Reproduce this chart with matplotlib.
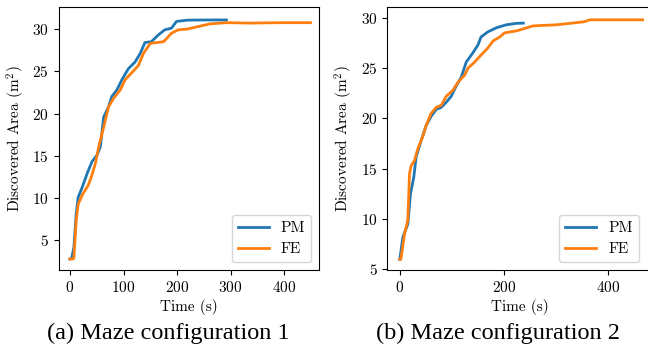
import matplotlib
matplotlib.use("Agg")
import matplotlib.pyplot as plt

plt.rcParams['font.family'] = 'serif'
plt.rcParams['font.serif'] = ['cmr10']
plt.rcParams['mathtext.fontset'] = 'cm'
plt.rcParams['axes.formatter.use_mathtext'] = True
plt.rcParams['axes.unicode_minus'] = False

# Maze configuration 1
t1_pm = [0, 3, 7.4, 11.7, 15.4, 23, 32, 41, 50.6, 56.8, 63, 72, 78, 87.6, 97, 109, 121.6,
         131, 140, 152, 165, 177, 189.5, 199, 220, 260, 292]
a1_pm = [2.8, 2.85, 4.2, 8.2, 10.1, 11.3, 12.9, 14.3, 15.1, 16.1, 19.6, 20.8, 22.0, 22.8,
         24.0, 25.3, 26.1, 27.1, 28.4, 28.5, 29.3, 29.9, 30.1, 30.9, 31.05, 31.07, 31.07]
t1_fe = [0, 6, 7.4, 11.7, 15.4, 24, 34, 41, 47.5, 53.7, 63, 72, 81.5, 94, 103, 115, 128,
         137, 150, 175, 189.5, 202, 220, 240, 261, 292, 335, 397, 449]
a1_fe = [2.8, 2.8, 3.0, 7.4, 9.3, 10.5, 11.5, 12.7, 14.1, 16.1, 18.4, 20.8, 21.8, 22.8,
         24.0, 24.8, 25.7, 27.1, 28.3, 28.5, 29.5, 29.9, 30.0, 30.3, 30.6, 30.75, 30.7,
         30.75, 30.75]

# Maze configuration 2
t2_pm = [0, 5.8, 15.4, 20.5, 26.9, 31.4, 41, 50.6, 60, 70, 79.5, 89, 98.7, 108, 118, 127.5,
         140, 150, 156, 169, 185, 204, 224, 237]
a2_pm = [6.0, 8.2, 9.5, 12.5, 14.2, 16.2, 17.8, 19.3, 20.2, 20.9, 21.1, 21.6, 22.2, 23.2,
         24.1, 25.6, 26.5, 27.3, 28.1, 28.6, 29.0, 29.3, 29.45, 29.47]
t2_fe = [0, 2, 9, 15.4, 18.6, 21.8, 28, 34.6, 44, 50.6, 60, 70, 79.5, 89, 102, 111.5, 124.4,
         131, 143.6, 156, 169, 179, 192, 201, 224, 237, 256, 300, 327, 353, 365, 420, 466]
a2_fe = [6.0, 6.0, 8.5, 9.9, 14.5, 15.3, 15.8, 17.0, 18.2, 19.3, 20.5, 21.1, 21.3, 22.2, 22.8,
         23.6, 24.3, 25.0, 25.6, 26.3, 27.0, 27.7, 28.1, 28.5, 28.7, 28.9, 29.2, 29.3, 29.45,
         29.6, 29.8, 29.8, 29.8]

labels = ['PM', 'FE']
captions = ['(a) Maze configuration 1', '(b) Maze configuration 2']
xlabel = 'Time (s)'
ylabel = 'Discovered Area (m$^2$)'

fig = plt.figure(figsize=(6.48, 3.58), dpi=100)
ax1 = fig.add_axes([0.0906, 0.2458, 0.4017, 0.7346])
ax2 = fig.add_axes([0.5977, 0.2458, 0.4100, 0.7346])

fs = 11
for ax, (tp, ap, tf, af) in zip([ax1, ax2], [(t1_pm, a1_pm, t1_fe, a1_fe),
                                             (t2_pm, a2_pm, t2_fe, a2_fe)]):
    ax.plot(tp, ap, color='#1f77b4', lw=2, label=labels[0])
    ax.plot(tf, af, color='#ff7f0e', lw=2, label=labels[1])
    ax.set_xlabel(xlabel, fontsize=fs, labelpad=3)
    ax.set_ylabel(ylabel, fontsize=fs)
    ax.tick_params(labelsize=fs)

ax1.set_xlim(-21, 465)
ax1.set_ylim(1.5, 32.6)
ax1.set_xticks([0, 100, 200, 300, 400])
ax1.set_yticks([5, 10, 15, 20, 25, 30])
ax1.legend(loc='lower right', fontsize=fs)

ax2.set_xlim(-24, 486)
ax2.set_ylim(4.94, 31.07)
ax2.set_xticks([0, 200, 400])
ax2.set_yticks([5, 10, 15, 20, 25, 30])
ax2.legend(loc='lower right', fontsize=fs, bbox_to_anchor=(0.975, 0.0))

fig.text(0.259, 0.07, captions[0], fontsize=17.5, family='Liberation Serif', ha='center', va='center')
fig.text(0.768, 0.07, captions[1], fontsize=17.5, family='Liberation Serif', ha='center', va='center')

fig.savefig('out.png', dpi=100)
